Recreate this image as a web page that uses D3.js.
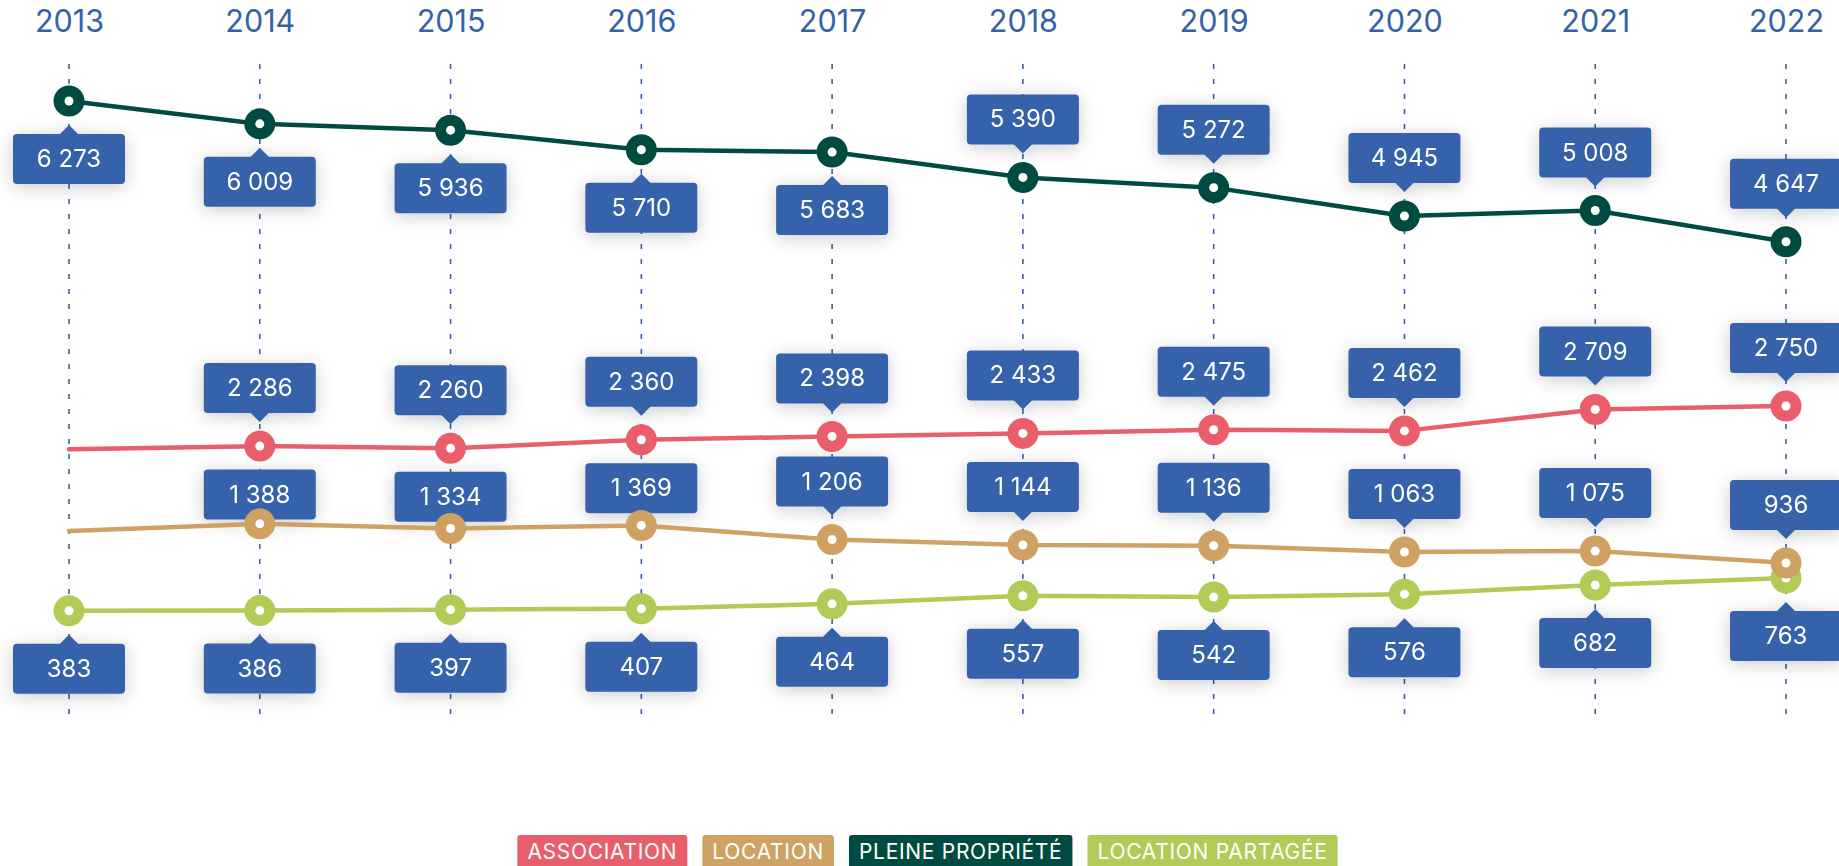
<!doctype html>
<html lang="fr">
<head>
<meta charset="utf-8">
<title>Évolution par mode de détention</title>
<style>
  body { margin: 0; background: #fff; overflow: hidden; }
  svg { display: block; font-family: Inter, "Open Sans", sans-serif; }
</style>
</head>
<body>
<svg id="chart" width="1839" height="866"></svg>
<script src="https://cdn.jsdelivr.net/npm/d3@7/dist/d3.min.js"></script>
<script>
// values (2013 for association / location has no tag, only the line)
var years = [2013, 2014, 2015, 2016, 2017, 2018, 2019, 2020, 2021, 2022];
var associationValues = [2250, 2286, 2260, 2360, 2398, 2433, 2475, 2462, 2709, 2750];
var locationValues = [1305, 1388, 1334, 1369, 1206, 1144, 1136, 1063, 1075, 936];
var pleineValues = [6273, 6009, 5936, 5710, 5683, 5390, 5272, 4945, 5008, 4647];
var partageeValues = [383, 386, 397, 407, 464, 557, 542, 576, 682, 763];

var seriesNames = ["ASSOCIATION", "LOCATION", "PLEINE PROPRIÉTÉ", "LOCATION PARTAGÉE"];

// styles
var colors = {
  "ASSOCIATION": "#ea5e6c",
  "LOCATION": "#cfa263",
  "PLEINE PROPRIÉTÉ": "#004b41",
  "LOCATION PARTAGÉE": "#b1cb56"
};
var blue = "#3462aa";
var pleineSides = ["below", "below", "below", "below", "below", "above", "above", "above", "above", "above"];

var series = [
  {name: "LOCATION PARTAGÉE", values: partageeValues, first: 0, side: function() { return "below"; }},
  {name: "PLEINE PROPRIÉTÉ", values: pleineValues, first: 0, side: function(i) { return pleineSides[i]; }},
  {name: "LOCATION", values: locationValues, first: 1, side: function() { return "above"; }},
  {name: "ASSOCIATION", values: associationValues, first: 1, side: function() { return "above"; }}
];

var fr = d3.formatLocale({decimal: ",", thousands: " ", grouping: [3], currency: ["", " €"]});
var fmt = fr.format(",d");

var svg = d3.select("#chart");

var x = d3.scalePoint().domain(years).range([69, 1786]);
var y = d3.scaleLinear().domain([0, 6273]).range([644, 101]);

var r = 15.5;
var boxW = 112, boxH = 50, gap = 33;

var defs = svg.append("defs");
defs.append("filter").attr("id", "shadow")
    .attr("x", "-50%").attr("y", "-50%").attr("width", "200%").attr("height", "200%")
  .append("feDropShadow")
    .attr("dx", 0).attr("dy", 3)
    .attr("stdDeviation", 9)
    .attr("flood-color", "#000")
    .attr("flood-opacity", 0.2);

// year labels on top
svg.append("g")
    .attr("transform", "translate(0,32)")
    .call(d3.axisTop(x).tickSize(0).tickPadding(0))
    .call(function(g) { g.select(".domain").remove(); })
    .attr("font-family", null)
    .attr("font-size", null)
  .selectAll("text")
    .attr("font-size", 30.5)
    .attr("fill", blue);

// dashed verticals
svg.append("g").selectAll("line")
  .data(years)
  .join("line")
    .attr("x1", function(d) { return x(d); })
    .attr("x2", function(d) { return x(d); })
    .attr("y1", 64)
    .attr("y2", 715)
    .attr("stroke", blue)
    .attr("stroke-width", 1.6)
    .attr("stroke-dasharray", "5,10");

// points that get a marker
function shownPoints(s) {
  var pts = [];
  for (var i = s.first; i < s.values.length; i++) {
    pts.push({i: i, year: years[i], v: s.values[i], cx: x(years[i]), cy: y(s.values[i])});
  }
  return pts;
}

// value tags, pushed off other series' markers when they would sit on them
var tags = [];
series.forEach(function(s) {
  shownPoints(s).forEach(function(p) {
    var side = s.side(p.i);
    var top = side == "above" ? p.cy - gap - boxH : p.cy + gap;
    series.forEach(function(o) {
      if (o === s || p.i < o.first) return;
      var oy = y(o.values[p.i]);
      if (top < oy + r && top + boxH > oy - r) {
        if (side == "above" && oy < p.cy) top = oy + r + 8;
        if (side == "below" && oy > p.cy) top = oy - r - 8 - boxH;
      }
    });
    tags.push({cx: p.cx, top: top, side: side, label: fmt(p.v)});
  });
});

var tag = svg.append("g").selectAll("g")
  .data(tags)
  .join("g")
    .attr("filter", "url(#shadow)");

tag.append("path")
    .attr("fill", blue)
    .attr("d", function(d) {
      if (d.side == "above") {
        var b = d.top + boxH;
        return "M" + (d.cx - 10) + "," + (b - 1) + "L" + d.cx + "," + (b + 9) + "L" + (d.cx + 10) + "," + (b - 1) + "Z";
      }
      return "M" + (d.cx - 10) + "," + (d.top + 1) + "L" + d.cx + "," + (d.top - 9) + "L" + (d.cx + 10) + "," + (d.top + 1) + "Z";
    });

tag.append("rect")
    .attr("x", function(d) { return d.cx - boxW / 2; })
    .attr("y", function(d) { return d.top; })
    .attr("width", boxW)
    .attr("height", boxH)
    .attr("rx", 4)
    .attr("fill", blue);

tag.append("text")
    .attr("x", function(d) { return d.cx; })
    .attr("y", function(d) { return d.top + 33; })
    .attr("text-anchor", "middle")
    .attr("font-size", 24)
    .attr("fill", "#fff")
    .text(function(d) { return d.label; });

// lines and markers
var line = d3.line()
    .x(function(d, i) { return x(years[i]); })
    .y(function(d) { return y(d); });

series.forEach(function(s) {
  var g = svg.append("g");
  g.append("path")
      .datum(s.values)
      .attr("fill", "none")
      .attr("stroke", colors[s.name])
      .attr("stroke-width", 4.5)
      .attr("stroke-linecap", "round")
      .attr("stroke-linejoin", "round")
      .attr("d", line);

  var dots = g.selectAll("g")
    .data(shownPoints(s))
    .join("g");
  dots.append("circle")
      .attr("cx", function(d) { return d.cx; })
      .attr("cy", function(d) { return d.cy; })
      .attr("r", r)
      .attr("fill", colors[s.name]);
  dots.append("circle")
      .attr("cx", function(d) { return d.cx; })
      .attr("cy", function(d) { return d.cy; })
      .attr("r", 4.5)
      .attr("fill", "#fff");
});

// legend, centred under the plot
var legend = svg.append("g");
var item = legend.selectAll("g")
  .data(seriesNames)
  .join("g");
item.append("rect")
    .attr("y", 835)
    .attr("height", 34)
    .attr("rx", 3)
    .attr("fill", function(d) { return colors[d]; });
item.append("text")
    .attr("y", 859)
    .attr("font-size", 21)
    .attr("letter-spacing", 0.7)
    .attr("fill", "#fff")
    .text(function(d) { return d; });

var pad = 10, spacing = 15, xpos = 0;
var widths = [];
item.select("text").each(function() { widths.push(this.getComputedTextLength() + 2 * pad); });
var total = d3.sum(widths) + spacing * (widths.length - 1);
xpos = (x(2013) + x(2022)) / 2 - total / 2;
item.each(function(d, i) {
  var it = d3.select(this);
  it.select("rect").attr("x", xpos).attr("width", widths[i]);
  it.select("text").attr("x", xpos + pad);
  xpos += widths[i] + spacing;
});
</script>
</body>
</html>
